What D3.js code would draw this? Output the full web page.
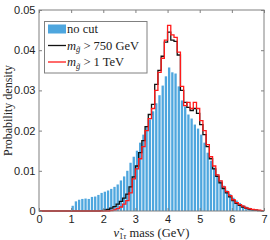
<!DOCTYPE html>
<html><head><meta charset="utf-8">
<script src="https://cdn.jsdelivr.net/npm/d3@7"></script>
<style>body{margin:0;background:#fff}svg{display:block}</style>
</head><body><svg id="c" width="270" height="240"></svg>
<script>
// bin edges: 0.0 .. 6.9 (width 0.1 GeV)
const binStarts = [
0.0,0.1,0.2,0.3,0.4,0.5,0.6,0.7,0.8,0.9,
1.0,1.1,1.2,1.3,1.4,1.5,1.6,1.7,1.8,1.9,
2.0,2.1,2.2,2.3,2.4,2.5,2.6,2.7,2.8,2.9,
3.0,3.1,3.2,3.3,3.4,3.5,3.6,3.7,3.8,3.9,
4.0,4.1,4.2,4.3,4.4,4.5,4.6,4.7,4.8,4.9,
5.0,5.1,5.2,5.3,5.4,5.5,5.6,5.7,5.8,5.9,
6.0,6.1,6.2,6.3,6.4,6.5,6.6,6.7,6.8,6.9];
const binWidth = 0.1;
const noCut = [
0,0,0,0,0,0,0,0,0,0,
0.0013,0.0024,0.0028,0.0030,0.0031,0.0030,0.0035,0.0036,0.0040,0.0045,
0.0048,0.0051,0.0055,0.0060,0.0066,0.0076,0.0086,0.0100,0.0120,0.0135,
0.0150,0.0170,0.0190,0.0210,0.0228,0.0248,0.0268,0.0288,0.0312,0.0335,
0.0357,0.0345,0.0342,0.0310,0.0275,0.0260,0.0240,0.0230,0.0215,0.0205,
0.0190,0.0170,0.0145,0.0125,0.0108,0.0092,0.0076,0.0063,0.0051,0.0042,
0.0033,0.0026,0.0020,0.0015,0.0011,0.0008,0.0005,0.0003,0.0002,0.0001];
const cut750 = [
0,0,0,0,0,0,0,0,0,0,
0,0,0,0,0,0,0,0,0,0.0001,
0.0002,0.0004,0.0007,0.0011,0.0017,0.0024,0.0032,0.0042,0.0060,0.0085,
0.0112,0.0145,0.0175,0.0210,0.0240,0.0265,0.0315,0.0350,0.0385,0.0420,
0.0445,0.0425,0.0422,0.0388,0.0300,0.0270,0.0258,0.0250,0.0255,0.0243,
0.0215,0.0190,0.0160,0.0130,0.0105,0.0086,0.0070,0.0056,0.0045,0.0035,
0.0026,0.0019,0.0014,0.0010,0.0007,0.0005,0.0003,0.0002,0.0001,0.0001];
const cut1TeV = [
0,0,0,0,0,0,0,0,0,0,
0,0,0,0,0,0,0,0,0,0,
0,0,0.0001,0.0003,0.0006,0.0010,0.0017,0.0026,0.0045,0.0080,
0.0105,0.0130,0.0160,0.0200,0.0230,0.0255,0.0300,0.0345,0.0380,0.0425,
0.0462,0.0438,0.0432,0.0395,0.0310,0.0262,0.0270,0.0255,0.0270,0.0255,
0.0225,0.0200,0.0165,0.0135,0.0112,0.0090,0.0075,0.0060,0.0048,0.0038,
0.0028,0.0021,0.0016,0.0012,0.0008,0.0006,0.0004,0.0003,0.0002,0.0001];
const xTicks = [0,1,2,3,4,5,6,7];
const yTicks = [0,0.01,0.02,0.03,0.04,0.05];
const yTickLabels = ["0","0.01","0.02","0.03","0.04","0.05"];

const svg = d3.select("#c");
const L=39, R=264, T=10, B=211;
const x = d3.scaleLinear().domain([0,7]).range([L,R]);
const y = d3.scaleLinear().domain([0,0.05]).range([B,T]);
const axisCol = "#808080";
const sans = "'Liberation Sans', Arial, sans-serif";
const serif = "'Liberation Serif', 'Times New Roman', serif";

// bars
svg.append("g").selectAll("rect").data(binStarts.map((b,i)=>({b, v:noCut[i]})).filter(d=>d.v>0))
  .join("rect")
  .attr("x", d=>x(d.b)+0.4)
  .attr("width", d=>x(d.b+binWidth)-x(d.b)-0.9)
  .attr("y", d=>y(d.v))
  .attr("height", d=>y(0)-y(d.v))
  .attr("fill", "#4ea6de");

function stepPts(vals){
  const pts = binStarts.map((b,i)=>[b, vals[i]]);
  pts.push([7, vals[vals.length-1]]);
  return pts;
}
const line = d3.line().x(d=>x(d[0])).y(d=>y(d[1])).curve(d3.curveStepAfter);
svg.append("path").attr("d", line(stepPts(cut750))).attr("fill","none").attr("stroke","#111").attr("stroke-width",1.3);
svg.append("path").attr("d", line(stepPts(cut1TeV))).attr("fill","none").attr("stroke","#ff1a1a").attr("stroke-width",1.3);

// axes
function styleAxis(g, labels){
  g.select(".domain").remove();
  g.selectAll(".tick line").attr("stroke", axisCol);
  g.selectAll(".tick text").attr("font-family", sans).attr("font-size", 11).attr("fill","#222");
  if(!labels) g.selectAll(".tick text").remove();
}
svg.append("g").attr("transform",`translate(0,${B})`)
  .call(d3.axisBottom(x).tickValues(xTicks).tickFormat(d3.format("d")).tickSizeInner(-3).tickPadding(4.5))
  .call(g=>styleAxis(g,true));
svg.append("g").attr("transform",`translate(0,${T})`)
  .call(d3.axisTop(x).tickValues(xTicks).tickSizeInner(-3))
  .call(g=>styleAxis(g,false));
svg.append("g").attr("transform",`translate(${L},0)`)
  .call(d3.axisLeft(y).tickValues(yTicks).tickFormat((d,i)=>yTickLabels[i]).tickSizeInner(-3).tickPadding(3.5))
  .call(g=>styleAxis(g,true));
svg.append("g").attr("transform",`translate(${R},0)`)
  .call(d3.axisRight(y).tickValues(yTicks).tickSizeInner(-3))
  .call(g=>styleAxis(g,false));
svg.append("rect").attr("x",L).attr("y",T).attr("width",R-L).attr("height",B-T)
  .attr("fill","none").attr("stroke",axisCol).attr("stroke-width",1);

// axis titles
svg.append("text").attr("transform",`translate(11.5,${(T+B)/2}) rotate(-90)`)
  .attr("text-anchor","middle").attr("font-family",serif).attr("font-size",12).attr("fill","#222")
  .text("Probability density");
const xl = svg.append("text").attr("x",(L+R)/2).attr("y",236.5).attr("text-anchor","middle")
  .attr("font-family",serif).attr("font-size",12.5).attr("fill","#222");
xl.append("tspan").attr("font-style","italic").text("ν\u0303");
xl.append("tspan").attr("font-size",8.5).attr("dy",2.5).text("1");
xl.append("tspan").attr("font-size",8.5).attr("font-style","italic").text("τ");
xl.append("tspan").attr("dy",-2.5).text(" mass (GeV)");

// legend
const lg = svg.append("g");
lg.append("rect").attr("x",44.5).attr("y",21.5).attr("width",102.5).attr("height",51.5)
  .attr("fill","#fff").attr("stroke",axisCol).attr("stroke-width",1);
const rows = [29, 45.5, 62];
lg.append("rect").attr("x",48).attr("y",rows[0]-4.5).attr("width",18).attr("height",9).attr("fill","#4ea6de");
lg.append("line").attr("x1",48).attr("x2",66).attr("y1",rows[1]).attr("y2",rows[1]).attr("stroke","#111").attr("stroke-width",1.3);
lg.append("line").attr("x1",48).attr("x2",66).attr("y1",rows[2]).attr("y2",rows[2]).attr("stroke","#ff1a1a").attr("stroke-width",1.3);
const lt = (yy)=>lg.append("text").attr("x",67).attr("y",yy+4).attr("font-family",serif).attr("font-size",12.5).attr("fill","#222");
lt(rows[0]).text("no cut");
[[rows[1]," > 750 GeV"],[rows[2]," > 1 TeV"]].forEach(([yy,s])=>{
  const t = lt(yy);
  t.append("tspan").attr("font-style","italic").text("m");
  t.append("tspan").attr("font-style","italic").attr("font-size",8.5).attr("dy",2.5).text("g\u0303");
  t.append("tspan").attr("dy",-2.5).text(s);
});
</script></body></html>
